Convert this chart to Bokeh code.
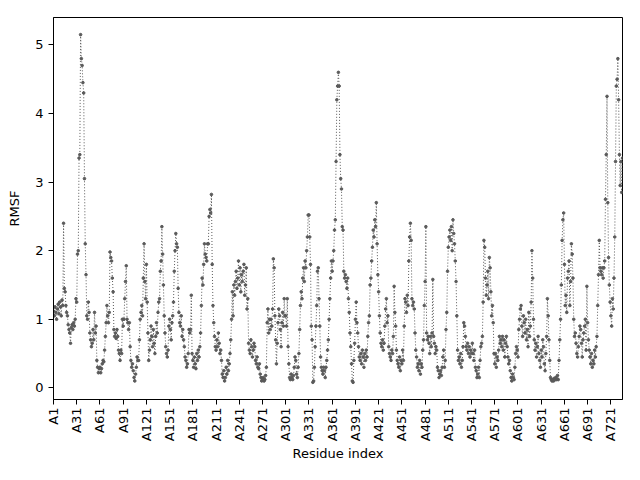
import math
from bokeh.plotting import figure
from bokeh.models import Range1d, FixedTicker
from bokeh.embed import file_html
from bokeh.resources import INLINE

rmsf = [
    1.12, 1.05, 1.18, 1.10, 1.00, 1.15, 1.22, 1.08, 1.25, 1.18,
    1.05, 1.28, 1.20, 2.40, 1.45, 1.40, 1.20, 1.10, 1.05, 0.92,
    0.85, 0.80, 0.65, 0.88, 0.92, 0.85, 0.95, 0.90, 1.00, 1.30,
    1.25, 1.95, 2.00, 3.35, 3.40, 5.15, 4.80, 4.70, 4.45, 4.30,
    3.05, 2.10, 1.65, 1.05, 1.00, 1.25, 1.10, 0.80, 0.70, 0.60,
    0.65, 0.85, 0.70, 1.10, 0.80, 0.90, 0.40, 0.30, 0.22, 0.28,
    0.30, 0.22, 0.28, 0.35, 0.40, 0.38, 0.55, 0.75, 0.95, 1.20,
    1.05, 0.95, 1.10, 1.98, 1.90, 1.85, 1.60, 1.40, 0.85, 0.75,
    0.80, 0.72, 0.85, 0.75, 0.55, 0.50, 0.40, 0.55, 0.50, 1.00,
    0.90, 1.00, 1.30, 1.55, 1.78, 1.00, 0.95, 0.85, 0.95, 0.60,
    0.40, 0.30, 0.35, 0.25, 0.15, 0.10, 0.20, 0.30, 0.45, 0.40,
    0.40, 0.70, 1.00, 1.10, 1.20, 1.05, 1.60, 2.10, 1.55, 1.30,
    1.80, 1.25, 0.80, 0.40, 0.55, 0.70, 0.90, 0.75, 0.60, 0.85,
    0.65, 0.50, 0.75, 0.95, 0.80, 1.10, 1.25, 1.30, 1.70, 1.85,
    2.35, 1.95, 1.50, 1.05, 0.80, 0.60, 0.50, 0.45, 0.55, 0.90,
    1.00, 0.85, 0.70, 0.95, 1.05, 1.25, 1.70, 2.00, 2.25, 2.10,
    2.05, 1.45, 1.10, 0.95, 0.90, 1.05, 0.75, 0.85, 0.70, 0.60,
    0.45, 0.40, 0.30, 0.35, 0.50, 0.85, 0.80, 0.85, 1.35, 0.50,
    0.40, 0.30, 0.45, 0.35, 0.28, 0.50, 0.40, 0.55, 0.45, 0.60,
    0.80, 1.20, 1.60, 1.50, 1.80, 2.10, 1.95, 1.90, 1.85, 2.10,
    2.10, 2.50, 2.60, 2.55, 2.82, 1.80, 1.20, 0.95, 0.75, 0.60,
    0.55, 0.70, 0.60, 0.80, 0.65, 0.50, 0.55, 0.40, 0.20, 0.15,
    0.25, 0.10, 0.15, 0.30, 0.20, 0.40, 0.25, 0.35, 0.50, 0.70,
    1.00, 1.40, 1.05, 1.50, 1.35, 1.55, 1.70, 1.45, 1.60, 1.85,
    1.50, 1.75, 1.40, 1.65, 1.55, 1.70, 1.80, 1.35, 1.50, 1.75,
    1.15, 1.30, 0.65, 0.55, 0.50, 0.70, 0.60, 0.45, 0.55, 0.65,
    0.60, 0.40, 0.35, 0.45, 0.30, 0.28, 0.35, 0.20, 0.15, 0.10,
    0.12, 0.15, 0.10, 0.12, 0.18, 0.30, 0.95, 1.15, 0.80, 1.00,
    0.85, 1.00, 0.90, 1.15, 1.88, 1.75, 1.05, 0.70, 0.35, 0.65,
    0.95, 1.15, 1.05, 0.85, 0.60, 0.95, 1.10, 0.90, 1.30, 1.05,
    1.05, 0.90, 1.30, 0.60, 0.35, 0.15, 0.12, 0.20, 0.15, 0.12,
    0.18, 0.30, 0.45, 0.40, 0.20, 0.15, 0.30, 0.50, 0.85, 1.20,
    1.40, 1.30, 1.60, 1.75, 1.55, 1.85, 1.75, 2.00, 2.20, 2.52,
    2.52, 2.20, 1.80, 0.90, 0.70, 0.08, 0.10, 0.30, 0.60, 0.90,
    1.20, 1.70, 1.75, 1.30, 0.90, 0.45, 0.30, 0.25, 0.20, 0.30,
    0.25, 0.15, 0.30, 0.40, 0.55, 0.70, 1.00, 1.30, 1.60, 1.85,
    1.70, 1.85, 2.00, 2.30, 2.45, 3.30, 4.20, 4.40, 4.60, 4.40,
    3.40, 3.05, 2.90, 2.35, 2.30, 1.70, 1.60, 1.65, 1.55, 1.45,
    1.60, 1.30, 1.10, 0.80, 0.60, 0.35, 0.10, 0.08, 0.40, 0.65,
    1.00, 1.25, 0.95, 0.80, 0.60, 0.45, 0.40, 0.50, 0.35, 0.55,
    0.45, 0.30, 0.50, 0.40, 0.55, 0.45, 0.75, 0.95, 1.05, 1.50,
    1.60, 1.85, 2.05, 2.30, 2.20, 2.45, 2.35, 2.70, 2.10, 1.65,
    1.40, 1.05, 0.80, 0.65, 0.60, 0.70, 0.55, 0.65, 0.90, 1.15,
    1.30, 0.95, 1.05, 0.60, 0.50, 0.45, 0.40, 0.55, 0.50, 0.75,
    1.48, 1.10, 0.90, 0.55, 0.40, 0.35, 0.30, 0.45, 0.25, 0.40,
    0.35, 0.55, 0.40, 0.90, 1.30, 1.25, 1.10, 1.35, 1.20, 1.85,
    2.20, 2.40, 2.15, 1.30, 1.20, 1.25, 1.15, 0.80, 0.55, 0.45,
    0.30, 0.35, 0.25, 0.40, 0.20, 0.35, 0.30, 0.55, 0.70, 1.20,
    1.55, 2.35, 0.80, 0.70, 0.75, 0.65, 0.50, 0.75, 0.60, 0.80,
    1.58, 0.75, 0.65, 0.50, 0.60, 0.55, 0.30, 0.25, 0.15, 0.20,
    0.25, 0.18, 0.30, 0.45, 0.55, 0.30, 0.40, 0.85, 1.10, 1.70,
    2.05, 2.20, 2.30, 2.15, 2.35, 2.00, 2.45, 2.25, 2.10, 1.85,
    1.55, 1.05, 0.55, 0.40, 0.45, 0.35, 0.50, 0.30, 0.40, 0.60,
    0.95, 0.90, 0.75, 0.60, 0.55, 0.65, 0.50, 0.60, 0.45, 0.55,
    0.50, 0.65, 0.50, 0.40, 0.55, 0.30, 0.25, 0.15, 0.20, 0.30,
    0.15, 0.40, 0.60, 0.65, 0.75, 1.25, 2.15, 2.05, 1.60, 1.35,
    1.50, 1.70, 1.30, 1.90, 1.75, 1.40, 1.05, 1.20, 0.95, 0.50,
    0.35, 0.50, 0.30, 0.45, 0.40, 0.55, 0.75, 0.65, 0.70, 0.60,
    0.75, 0.55, 0.70, 0.45, 0.65, 0.75, 0.60, 0.45, 0.35, 0.40,
    0.25, 0.15, 0.10, 0.20, 0.15, 0.12, 0.30, 0.50, 0.60, 0.55,
    0.45, 0.85, 1.00, 1.15, 1.20, 0.90, 0.75, 1.05, 0.95, 0.80,
    1.00, 0.70, 0.85, 0.60, 1.10, 0.75, 0.90, 1.25, 2.00, 1.60,
    1.00, 0.70, 0.55, 0.65, 0.45, 0.60, 0.75, 0.50, 0.40, 0.30,
    0.55, 0.45, 0.70, 0.60, 0.35, 0.25, 0.50, 0.75, 1.30, 1.05,
    0.70, 0.40, 0.15, 0.12, 0.10, 0.12, 0.10, 0.14, 0.12, 0.15,
    0.12, 0.18, 0.12, 0.40, 0.70, 1.00, 1.50, 2.15, 2.45, 2.55,
    1.80, 1.20, 1.35, 1.10, 1.60, 1.70, 1.85, 1.20, 1.55, 2.10,
    1.95, 1.60, 1.00, 0.75, 0.80, 0.65, 0.50, 0.45, 0.60, 0.75,
    0.90, 0.85, 0.65, 0.45, 0.70, 0.80, 0.90, 1.00, 0.55, 1.48,
    0.95, 0.70, 0.55, 0.45, 0.35, 0.50, 0.30, 0.40, 0.35, 0.55,
    0.45, 0.60, 0.75, 1.20, 1.65, 2.15, 1.75, 1.70, 1.65, 1.75,
    1.60, 1.75, 1.85, 2.75, 3.40, 4.25, 2.70, 1.90, 1.50, 1.25,
    1.05, 0.90, 1.30, 1.15, 1.60, 2.20, 3.30, 4.40, 4.50, 4.80,
    4.20, 3.40, 2.95, 3.30, 2.85, 3.35,
]
residue_pos = list(range(len(rmsf)))
tick_pos = list(range(0, 721, 30))
tick_labels = ["A%d" % (t + 1) for t in tick_pos]

FONT = "DejaVu Sans"
COLOR = "#5a5a5a"

p = figure(width=624, height=464, output_backend="svg", toolbar_location=None,
           x_range=Range1d(0, len(rmsf) - 1), y_range=Range1d(-0.17, 5.40),
           min_border_left=53, min_border_right=2, min_border_top=17,
           min_border_bottom=60)

p.line(residue_pos, rmsf, line_color=COLOR, line_width=1, line_dash="1 2")
p.scatter(residue_pos, rmsf, size=2.6, fill_color=COLOR, line_color=COLOR)

p.xgrid.visible = False
p.ygrid.visible = False
p.outline_line_color = "black"
p.outline_line_alpha = 1.0
p.outline_line_width = 1

p.xaxis.ticker = FixedTicker(ticks=tick_pos)
p.xaxis.major_label_overrides = {t: l for t, l in zip(tick_pos, tick_labels)}
p.xaxis.major_label_orientation = math.pi / 2
p.yaxis.ticker = FixedTicker(ticks=[0, 1, 2, 3, 4, 5])

p.xaxis.axis_label = "Residue index"
p.yaxis.axis_label = "RMSF"

for ax in (p.xaxis, p.yaxis):
    ax.axis_label_text_font = FONT
    ax.axis_label_text_font_size = "13px"
    ax.axis_label_text_font_style = "normal"
    ax.axis_label_text_color = "black"
    ax.major_label_text_font = FONT
    ax.major_label_text_font_size = "13px"
    ax.major_label_text_color = "black"
    ax.axis_line_color = "black"
    ax.major_tick_line_color = "black"
    ax.major_tick_out = 5
    ax.major_tick_in = 0
    ax.minor_tick_line_color = None
p.xaxis.major_label_standoff = 3
p.yaxis.major_label_standoff = 5
p.xaxis.axis_label_standoff = 2
p.yaxis.axis_label_standoff = 10

open("out.html", "w").write(file_html(p, INLINE))
